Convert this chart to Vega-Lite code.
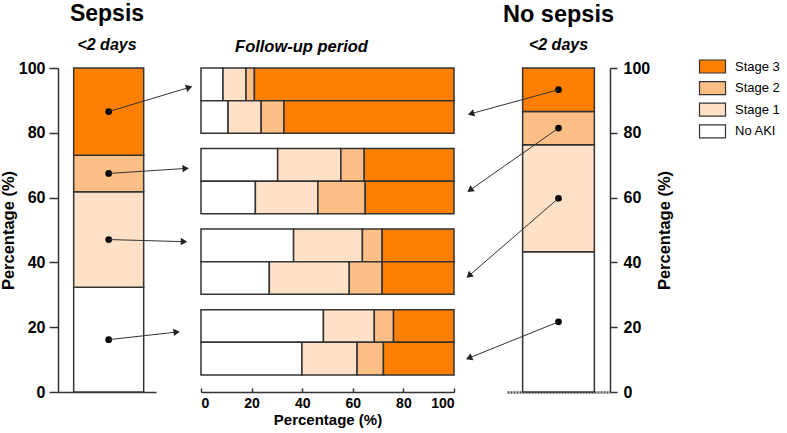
{
  "$schema": "https://vega.github.io/schema/vega-lite/v6.json",
  "background": "white",
  "padding": {"left": 0, "top": 2, "right": 5, "bottom": 5},
  "config": {
    "font": "Liberation Sans",
    "view": {"stroke": null},
    "axis": {"labelFont": "Liberation Sans", "labelFontWeight": "bold", "labelFontSize": 16, "labelColor": "#000", "titleFont": "Liberation Sans", "titleFontWeight": "bold", "titleColor": "#000", "domainColor": "#333", "tickColor": "#333", "domainWidth": 1.5, "tickWidth": 1.5, "grid": false},
    "title": {"font": "Liberation Sans", "color": "#000", "subtitleColor": "#000", "subtitleFont": "Liberation Sans"},
    "legend": {"orient": "none", "legendX": 647, "legendY": -9, "symbolType": "M-2,-1H2V1H-2Z", "symbolSize": 169, "symbolStrokeColor": "#333", "symbolStrokeWidth": 1.2, "symbolOpacity": 1, "labelFont": "Liberation Sans", "labelFontSize": 13, "labelColor": "#000", "labelOffset": 15, "rowPadding": 2.6, "padding": 0}
  },
  "datasets": {
    "early": [
      {"cohort": "Sepsis", "stage": "No AKI", "pct": 32.3, "to_x": 118.7, "to_y": 18.5},
      {"cohort": "Sepsis", "stage": "Stage 1", "pct": 29.5, "to_x": 126, "to_y": 46.4},
      {"cohort": "Sepsis", "stage": "Stage 2", "pct": 11.3, "to_x": 127.7, "to_y": 69.0},
      {"cohort": "Sepsis", "stage": "Stage 3", "pct": 26.9, "to_x": 131.2, "to_y": 94.0},
      {"cohort": "No sepsis", "stage": "No AKI", "pct": 43.3, "to_x": -38, "to_y": 10.5},
      {"cohort": "No sepsis", "stage": "Stage 1", "pct": 33.0, "to_x": -38, "to_y": 35.9},
      {"cohort": "No sepsis", "stage": "Stage 2", "pct": 10.3, "to_x": -37, "to_y": 62.3},
      {"cohort": "No sepsis", "stage": "Stage 3", "pct": 13.4, "to_x": -36, "to_y": 85.9}
    ],
    "follow": [
      {"initial": "Stage 3", "cohort": "Sepsis", "stage": "No AKI", "pct": 8.7},
      {"initial": "Stage 3", "cohort": "Sepsis", "stage": "Stage 1", "pct": 9.1},
      {"initial": "Stage 3", "cohort": "Sepsis", "stage": "Stage 2", "pct": 3.3},
      {"initial": "Stage 3", "cohort": "Sepsis", "stage": "Stage 3", "pct": 78.9},
      {"initial": "Stage 3", "cohort": "No sepsis", "stage": "No AKI", "pct": 10.7},
      {"initial": "Stage 3", "cohort": "No sepsis", "stage": "Stage 1", "pct": 13.1},
      {"initial": "Stage 3", "cohort": "No sepsis", "stage": "Stage 2", "pct": 9.0},
      {"initial": "Stage 3", "cohort": "No sepsis", "stage": "Stage 3", "pct": 67.2},
      {"initial": "Stage 2", "cohort": "Sepsis", "stage": "No AKI", "pct": 30.3},
      {"initial": "Stage 2", "cohort": "Sepsis", "stage": "Stage 1", "pct": 25.0},
      {"initial": "Stage 2", "cohort": "Sepsis", "stage": "Stage 2", "pct": 9.2},
      {"initial": "Stage 2", "cohort": "Sepsis", "stage": "Stage 3", "pct": 35.5},
      {"initial": "Stage 2", "cohort": "No sepsis", "stage": "No AKI", "pct": 21.5},
      {"initial": "Stage 2", "cohort": "No sepsis", "stage": "Stage 1", "pct": 24.7},
      {"initial": "Stage 2", "cohort": "No sepsis", "stage": "Stage 2", "pct": 18.7},
      {"initial": "Stage 2", "cohort": "No sepsis", "stage": "Stage 3", "pct": 35.1},
      {"initial": "Stage 1", "cohort": "Sepsis", "stage": "No AKI", "pct": 36.6},
      {"initial": "Stage 1", "cohort": "Sepsis", "stage": "Stage 1", "pct": 27.2},
      {"initial": "Stage 1", "cohort": "Sepsis", "stage": "Stage 2", "pct": 7.8},
      {"initial": "Stage 1", "cohort": "Sepsis", "stage": "Stage 3", "pct": 28.4},
      {"initial": "Stage 1", "cohort": "No sepsis", "stage": "No AKI", "pct": 27.0},
      {"initial": "Stage 1", "cohort": "No sepsis", "stage": "Stage 1", "pct": 31.6},
      {"initial": "Stage 1", "cohort": "No sepsis", "stage": "Stage 2", "pct": 13.0},
      {"initial": "Stage 1", "cohort": "No sepsis", "stage": "Stage 3", "pct": 28.4},
      {"initial": "No AKI", "cohort": "Sepsis", "stage": "No AKI", "pct": 48.4},
      {"initial": "No AKI", "cohort": "Sepsis", "stage": "Stage 1", "pct": 20.1},
      {"initial": "No AKI", "cohort": "Sepsis", "stage": "Stage 2", "pct": 7.6},
      {"initial": "No AKI", "cohort": "Sepsis", "stage": "Stage 3", "pct": 23.9},
      {"initial": "No AKI", "cohort": "No sepsis", "stage": "No AKI", "pct": 39.9},
      {"initial": "No AKI", "cohort": "No sepsis", "stage": "Stage 1", "pct": 21.8},
      {"initial": "No AKI", "cohort": "No sepsis", "stage": "Stage 2", "pct": 10.4},
      {"initial": "No AKI", "cohort": "No sepsis", "stage": "Stage 3", "pct": 27.9}
    ]
  },
  "bounds": "flush",
  "spacing": 45,
  "hconcat": [
    {
      "width": 98,
      "height": 324,
      "title": {"text": "Sepsis", "subtitle": "<2 days", "fontSize": 23, "fontWeight": "bold", "subtitleFontSize": 16, "subtitleFontWeight": "bold", "subtitleFontStyle": "italic", "subtitlePadding": 11, "offset": 7, "anchor": "middle"},
      "data": {"name": "early"},
      "transform": [
        {"filter": "datum.cohort === 'Sepsis'"},
        {"stack": "pct", "groupby": ["cohort"], "sort": [{"field": "stage", "order": "ascending"}], "as": ["y0", "y1"]},
        {"calculate": "(datum.y0 + datum.y1) / 2", "as": "mid"},
        {"calculate": "50.7", "as": "from_x"},
        {"calculate": "atan2(-(datum.to_y - datum.mid) * 3.24, datum.to_x - datum.from_x) * 180 / PI", "as": "head_angle"}
      ],
      "layer": [
        {
          "layer": [
            {
              "mark": {"type": "bar", "stroke": "#333", "strokeWidth": 1.5},
              "encoding": {
                "x": {"field": "cohort", "type": "nominal", "scale": {"paddingInner": 0, "paddingOuter": 0.2, "align": 0.56}, "axis": {"title": null, "labels": false, "ticks": false, "domain": true}},
                "y": {"field": "y0", "type": "quantitative", "scale": {"domain": [0, 100], "nice": false}, "axis": {"title": "Percentage (%)", "titleFontSize": 16.5, "values": [0, 20, 40, 60, 80, 100], "tickSize": 9, "labelPadding": 4, "titlePadding": 2}},
                "y2": {"field": "y1"},
                "color": {"field": "stage", "type": "nominal", "scale": {"domain": ["Stage 3", "Stage 2", "Stage 1", "No AKI"], "range": ["#FF8000", "#FDBF86", "#FEE1C6", "#FFFFFF"]}, "legend": {"title": null}}
              }
            },
            {
              "mark": {"type": "circle", "color": "#000", "size": 45, "opacity": 1},
              "encoding": {
                "x": {"field": "cohort", "type": "nominal"},
                "y": {"field": "mid", "type": "quantitative"}
              }
            }
          ]
        },
        {
          "layer": [
            {
              "mark": {"type": "rule", "color": "#333", "strokeWidth": 1},
              "encoding": {
                "x": {"field": "from_x", "type": "quantitative", "scale": {"domain": [0, 98], "nice": false, "zero": false}, "axis": null},
                "x2": {"field": "to_x"},
                "y": {"field": "mid", "type": "quantitative"},
                "y2": {"field": "to_y"}
              }
            },
            {
              "mark": {"type": "point", "shape": "triangle-right", "filled": true, "color": "#222", "size": 55, "opacity": 1},
              "encoding": {
                "x": {"field": "to_x", "type": "quantitative"},
                "y": {"field": "to_y", "type": "quantitative"},
                "angle": {"field": "head_angle", "type": "quantitative", "scale": null}
              }
            }
          ]
        }
      ],
      "resolve": {"scale": {"x": "independent"}, "axis": {"x": "independent"}}
    },
    {
      "bounds": "flush",
      "spacing": 53,
      "hconcat": [
        {
          "width": 253,
          "height": 324,
          "title": {"text": "Follow-up period", "fontSize": 16.5, "fontWeight": "bold", "fontStyle": "italic", "offset": 12, "dx": -26, "anchor": "middle"},
          "data": {"name": "follow"},
          "mark": {"type": "bar", "stroke": "#333", "strokeWidth": 1.5},
          "encoding": {
            "y": {"field": "initial", "type": "nominal", "sort": ["Stage 3", "Stage 2", "Stage 1", "No AKI"], "scale": {"paddingInner": 0.19, "paddingOuter": 0.106, "align": 0}, "axis": null},
            "yOffset": {"field": "cohort", "type": "nominal", "sort": ["Sepsis", "No sepsis"], "scale": {"paddingInner": 0, "paddingOuter": 0}},
            "x": {"field": "pct", "type": "quantitative", "stack": "zero", "scale": {"domain": [0, 100], "nice": false}, "axis": {"title": "Percentage (%)", "titleFontSize": 15, "labelFontSize": 14, "values": [0, 20, 40, 60, 80, 100], "tickSize": -4, "labelPadding": 8, "titlePadding": 2}},
            "color": {"field": "stage", "type": "nominal", "scale": {"domain": ["Stage 3", "Stage 2", "Stage 1", "No AKI"], "range": ["#FF8000", "#FDBF86", "#FEE1C6", "#FFFFFF"]}, "legend": {"title": null}},
            "order": {"field": "stage", "type": "ordinal", "sort": "ascending"}
          }
        },
        {
          "width": 103,
          "height": 324,
          "title": {"text": "No sepsis", "subtitle": "<2 days", "fontSize": 23.5, "fontWeight": "bold", "subtitleFontSize": 16, "subtitleFontWeight": "bold", "subtitleFontStyle": "italic", "subtitlePadding": 11, "offset": 7, "anchor": "middle"},
          "data": {"name": "early"},
          "transform": [
            {"filter": "datum.cohort === 'No sepsis'"},
            {"stack": "pct", "groupby": ["cohort"], "sort": [{"field": "stage", "order": "ascending"}], "as": ["y0", "y1"]},
            {"calculate": "(datum.y0 + datum.y1) / 2", "as": "mid"},
            {"calculate": "51.5", "as": "from_x"},
            {"calculate": "atan2(-(datum.to_y - datum.mid) * 3.24, datum.to_x - datum.from_x) * 180 / PI", "as": "head_angle"}
          ],
          "layer": [
            {
              "layer": [
                {
                  "mark": {"type": "bar", "stroke": "#333", "strokeWidth": 1.5},
                  "encoding": {
                    "x": {"field": "cohort", "type": "nominal", "scale": {"paddingInner": 0, "paddingOuter": 0.218, "align": 0.5}, "axis": {"title": null, "labels": false, "ticks": false, "domain": true, "domainDash": [2, 1], "domainColor": "#555", "domainWidth": 2.5}},
                    "y": {"field": "y0", "type": "quantitative", "scale": {"domain": [0, 100], "nice": false}, "axis": {"orient": "right", "title": "Percentage (%)", "titleFontSize": 16.5, "titleAngle": 270, "titleBaseline": "top", "values": [0, 20, 40, 60, 80, 100], "tickSize": 7, "labelPadding": 6, "titlePadding": 7}},
                    "y2": {"field": "y1"},
                    "color": {"field": "stage", "type": "nominal", "scale": {"domain": ["Stage 3", "Stage 2", "Stage 1", "No AKI"], "range": ["#FF8000", "#FDBF86", "#FEE1C6", "#FFFFFF"]}, "legend": {"title": null}}
                  }
                },
                {
                  "mark": {"type": "circle", "color": "#000", "size": 45, "opacity": 1},
                  "encoding": {
                    "x": {"field": "cohort", "type": "nominal"},
                    "y": {"field": "mid", "type": "quantitative"}
                  }
                }
              ]
            },
            {
              "layer": [
                {
                  "mark": {"type": "rule", "color": "#333", "strokeWidth": 1},
                  "encoding": {
                    "x": {"field": "from_x", "type": "quantitative", "scale": {"domain": [0, 103], "nice": false, "zero": false}, "axis": null},
                    "x2": {"field": "to_x"},
                    "y": {"field": "mid", "type": "quantitative"},
                    "y2": {"field": "to_y"}
                  }
                },
                {
                  "mark": {"type": "point", "shape": "triangle-right", "filled": true, "color": "#222", "size": 55, "opacity": 1},
                  "encoding": {
                    "x": {"field": "to_x", "type": "quantitative"},
                    "y": {"field": "to_y", "type": "quantitative"},
                    "angle": {"field": "head_angle", "type": "quantitative", "scale": null}
                  }
                }
              ]
            }
          ],
          "resolve": {"scale": {"x": "independent"}, "axis": {"x": "independent"}}
        }
      ]
    }
  ]
}
